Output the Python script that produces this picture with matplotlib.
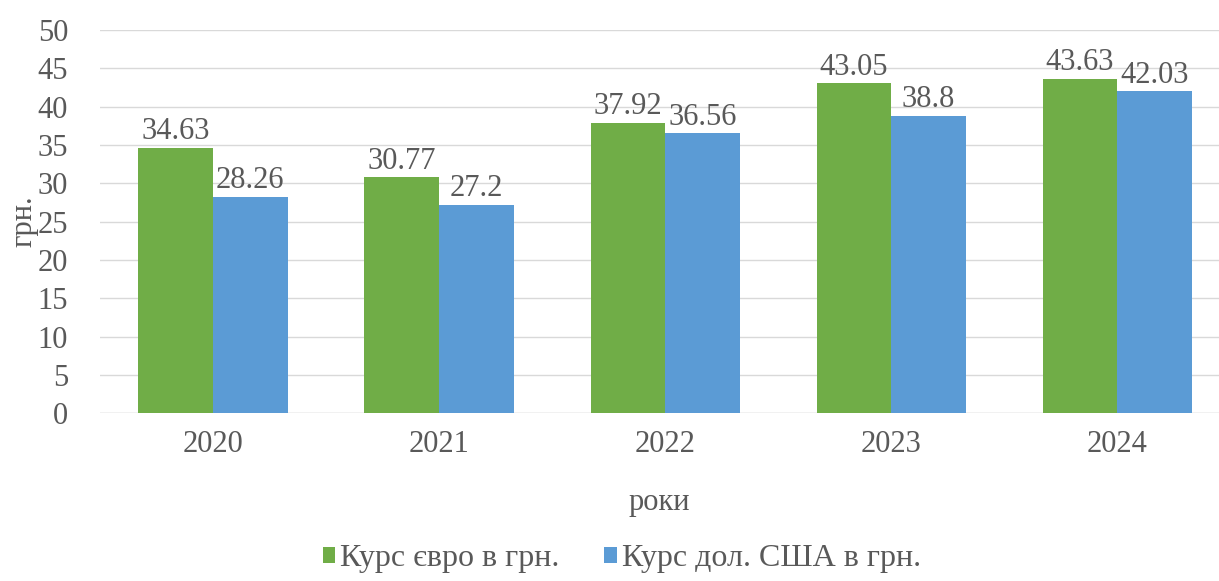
import numpy as np
import matplotlib.pyplot as plt

years = ["2020", "2021", "2022", "2023", "2024"]
euro = [34.63, 30.77, 37.92, 43.05, 43.63]
usd = [28.26, 27.2, 36.56, 38.8, 42.03]
euro_label = "Курс євро в грн."
usd_label = "Курс дол. США в грн."

plt.rcParams["font.family"] = ["Liberation Serif", "DejaVu Serif"]
TXT = "#595959"
FS = 22

fig = plt.figure(figsize=(12.19, 5.81), dpi=100)
ax = fig.add_axes([0.082, 0.289, 0.918, 0.659])

x = np.arange(len(years))
w = 0.33
b1 = ax.bar(x - w / 2, euro, w, color="#70AD47", label=euro_label, zorder=3)
b2 = ax.bar(x + w / 2, usd, w, color="#5B9BD5", label=usd_label, zorder=3)

for bars, vals in ((b1, euro), (b2, usd)):
    for r, v in zip(bars, vals):
        ax.text(r.get_x() + r.get_width() / 2, v + 0.2, f"{v:g}",
                ha="center", va="bottom", fontsize=FS, color=TXT)

ax.set_ylim(0, 50)
ax.set_yticks(range(0, 51, 5))
ax.set_xlim(-0.5, 4.45)
ax.set_xticks(x)
ax.set_xticklabels(years)
ax.grid(axis="y", color="#D9D9D9", linewidth=1, zorder=0)
for s in ax.spines.values():
    s.set_visible(False)
ax.axhline(0, color="#D9D9D9", linewidth=1, zorder=2)
ax.tick_params(length=0, labelsize=FS, colors=TXT)
ax.tick_params(axis="x", pad=12)
ax.tick_params(axis="y", pad=23)

ax.set_ylabel("грн.", fontsize=FS, color=TXT)
ax.yaxis.set_label_coords(-0.055, 0.5)
ax.set_xlabel("роки", fontsize=FS, color=TXT, labelpad=21)

fig.legend(loc="center", bbox_to_anchor=(0.51, 0.038), ncol=2, frameon=False,
           fontsize=FS + 1, labelcolor=TXT, handlelength=0.4, handleheight=0.4,
           handletextpad=0.15, columnspacing=1.4)

fig.savefig("out.png", dpi=100)
